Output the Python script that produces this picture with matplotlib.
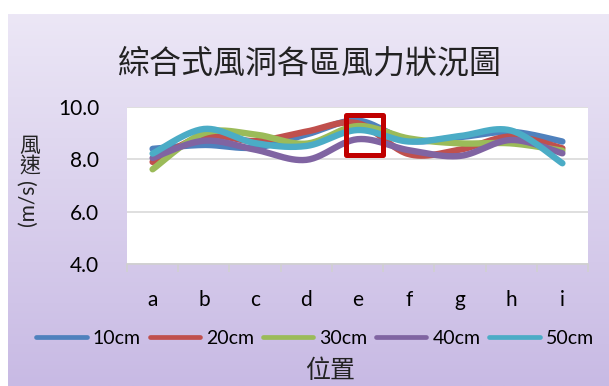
import matplotlib
matplotlib.use("Agg")
import matplotlib.pyplot as plt
from matplotlib.patches import Rectangle
from matplotlib.ticker import FixedLocator, FormatStrFormatter
import numpy as np

plt.rcParams['font.family'] = ['Lato', 'Noto Sans CJK TC', 'DejaVu Sans']

# wind speed (m/s) at each position, one series per height
positions = ["a", "b", "c", "d", "e", "f", "g", "h", "i"]
heights = ["10cm", "20cm", "30cm", "40cm", "50cm"]
speed_10 = [8.40, 8.55, 8.45, 8.95, 9.48, 8.72, 8.85, 9.05, 8.68]
speed_20 = [7.90, 8.89, 8.70, 9.06, 9.38, 8.20, 8.37, 8.87, 8.42]
speed_30 = [7.62, 9.00, 8.95, 8.60, 9.27, 8.80, 8.61, 8.61, 8.33]
speed_40 = [8.05, 8.71, 8.37, 7.98, 8.77, 8.35, 8.13, 8.74, 8.23]
speed_50 = [8.22, 9.16, 8.62, 8.51, 9.12, 8.68, 8.89, 9.10, 7.85]
series = [speed_10, speed_20, speed_30, speed_40, speed_50]
colors = ["#4F81BD", "#C0504D", "#9BBB59", "#8064A2", "#4BACC6"]


def smooth(x, y, n=30):
    # Bezier smoothing like spreadsheet "smoothed line" charts
    x = np.asarray(x, float)
    y = np.asarray(y, float)
    pts = np.column_stack([x, y])
    out = [pts[0]]
    t = np.linspace(0, 1, n)[1:, None]
    for i in range(len(pts) - 1):
        p0, p3 = pts[i], pts[i + 1]
        prev = pts[i - 1] if i > 0 else pts[i]
        nxt = pts[i + 2] if i + 2 < len(pts) else pts[i + 1]
        p1 = p0 + (p3 - prev) / 6
        p2 = p3 - (nxt - p0) / 6
        seg = ((1 - t) ** 3) * p0 + 3 * ((1 - t) ** 2) * t * p1 + 3 * (1 - t) * t ** 2 * p2 + t ** 3 * p3
        out.extend(seg)
    out = np.array(out)
    return out[:, 0], out[:, 1]


W, H = 609, 386
fig = plt.figure(figsize=(W / 100, H / 100), dpi=100)
fig.patch.set_facecolor("white")

# lavender gradient chart area
bg = fig.add_axes([8 / W, 0, 1 - 8 / W, 1 - 14 / H])
top = np.array([236, 231, 246]) / 255
bottom = np.array([200, 186, 228]) / 255
grad = np.linspace(0, 1, 256)[:, None, None]
img = top * (1 - grad) + bottom * grad
bg.imshow(img, aspect="auto", extent=[0, 1, 0, 1])
bg.set_axis_off()

ax = fig.add_axes([127 / W, (H - 264) / H, (588 - 127) / W, (264 - 107) / H])
ax.set_facecolor("white")

xs = np.arange(len(positions))
for vals, c, lab in zip(series, colors, heights):
    sx, sy = smooth(xs, vals)
    ax.plot(sx, sy, color=c, lw=4.6, solid_capstyle="round", solid_joinstyle="round", label=lab, zorder=3)

# highlight box around position e
ax.add_patch(Rectangle((3.77, 8.17), 0.73, 1.52, fill=False, edgecolor="#C00000",
                       lw=3.6, joinstyle="round", zorder=5, clip_on=False))

ax.set_xlim(-0.5, len(positions) - 0.5)
ax.set_ylim(4, 10)
ax.set_yticks([4, 6, 8, 10])
ax.yaxis.set_major_formatter(FormatStrFormatter("%.1f"))
ax.set_xticks(xs)
ax.set_xticklabels(positions)
ax.xaxis.set_minor_locator(FixedLocator(np.arange(-0.5, len(positions), 1.0)))
ax.tick_params(axis="x", which="major", length=0, pad=19, labelsize=15, colors="black")
ax.tick_params(axis="x", which="minor", length=6, width=1.2, color="#D0D0D0", direction="out")
ax.tick_params(axis="y", length=0, pad=20, labelsize=15)

ax.grid(axis="y", color="#D9D9D9", lw=1.2, zorder=0)
for s in ["top", "right", "left"]:
    ax.spines[s].set_visible(False)
ax.spines["bottom"].set_color("#D0D0D0")
ax.spines["bottom"].set_linewidth(1.2)

fig.text(310 / W, 1 - 64 / H, "綜合式風洞各區風力狀況圖", ha="center", va="center",
         fontsize=23, fontweight="light", family=["Noto Sans CJK TC"], color="#222222")

# y axis title: CJK upright, units rotated
fig.text(30 / W, 1 - 146 / H, "風", ha="center", va="center", fontsize=15, fontweight="light",
         family=["Noto Sans CJK TC"], color="#222222")
fig.text(30 / W, 1 - 166 / H, "速", ha="center", va="center", fontsize=15, fontweight="light",
         family=["Noto Sans CJK TC"], color="#222222")
fig.text(28 / W, 1 - 202 / H, "(m/s)", ha="center", va="center", fontsize=15,
         rotation=90, color="#222222")

fig.text(330 / W, 1 - 371 / H, "位置", ha="center", va="center", fontsize=18, fontweight="light",
         family=["Noto Sans CJK TC"], color="#222222")

leg = fig.legend(loc="center", bbox_to_anchor=(315 / W, 1 - 338 / H), ncol=5, frameon=False,
                 fontsize=14, handlelength=2.6, handletextpad=0.3, columnspacing=0.45,
                 borderaxespad=0)
for line in leg.get_lines():
    line.set_linewidth(3.4)

fig.savefig("out.png", dpi=100)
